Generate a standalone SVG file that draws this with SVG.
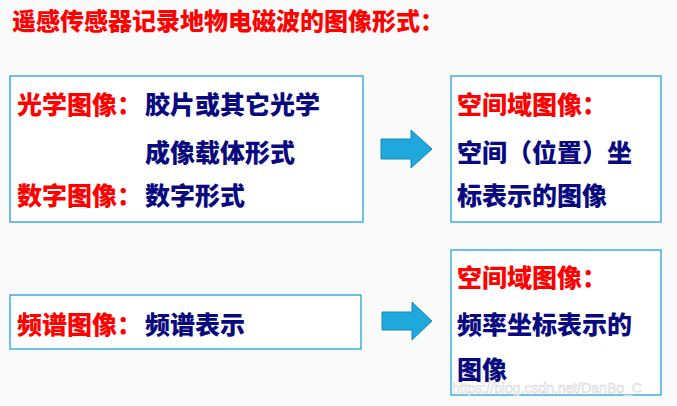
<svg xmlns="http://www.w3.org/2000/svg" width="677" height="406" viewBox="0 0 677 406">
<style>
text{font-family:"Noto Sans CJK SC","Liberation Sans",sans-serif;font-weight:900;font-size:25px}
.r{fill:#ff0000}.b{fill:#0a0a80}
.box{fill:#fff;stroke:#1fa3dc;stroke-width:1.3}
.ar{fill:#1fa8dc;stroke:#1a8ab8;stroke-width:1}
</style>
<rect width="677" height="406" fill="#fafafa"/>
<text x="12" y="30" class="r" style="font-size:24px">遥感传感器记录地物电磁波的图像形式：</text>
<g id="n1"><rect class="box" x="10" y="76" width="353" height="146"/>
<text x="17" y="114" class="r">光学图像：</text><text x="145" y="114" class="b">胶片或其它光学</text>
<text x="145" y="162" class="b">成像载体形式</text>
<text x="17" y="205" class="r">数字图像：</text><text x="145" y="205" class="b">数字形式</text></g>
<g id="n2"><rect class="box" x="451" y="76" width="210" height="146"/>
<text x="457" y="114" class="r">空间域图像：</text>
<text x="457" y="162" class="b">空间（位置）坐</text>
<text x="457" y="205" class="b">标表示的图像</text></g>
<g id="n3"><rect class="box" x="10" y="295" width="351" height="54"/>
<text x="17" y="334" class="r">频谱图像：</text><text x="145" y="334" class="b">频谱表示</text></g>
<g id="n4"><rect class="box" x="451" y="250" width="210" height="145"/>
<text x="457" y="287" class="r">空间域图像：</text>
<text x="457" y="334" class="b">频率坐标表示的</text>
<text x="457" y="379" class="b">图像</text></g>
<g id="connectors">
<path class="ar" d="M381,139 H411 V130 L432,149 L411,168 V159 H381 Z"/>
<path class="ar" d="M382,312 H412 V302 L432,321 L412,340 V330 H382 Z"/>
</g>
<text x="452" y="393" style="font-family:'Liberation Sans',sans-serif;font-weight:normal;font-size:14px;fill:#ffffff;stroke:#cfcfcf;stroke-width:0.5">https://blog.csdn.net/DanBo_C</text>
</svg>
